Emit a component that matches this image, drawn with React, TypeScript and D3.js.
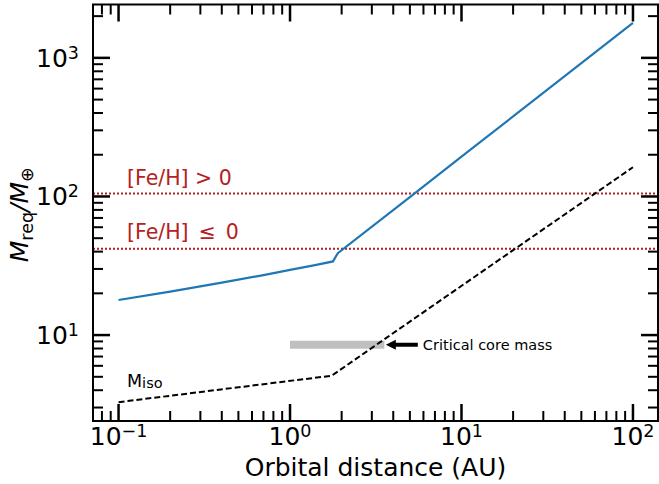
import React from 'react';
import * as d3 from 'd3';

const width = 659;
const height = 484;
const margin = {top: 4.5, right: 1, bottom: 63, left: 93};

// required core mass (blue)
const reqDist = [0.1, 0.2, 0.4, 0.7, 1.0, 1.4, 1.78, 1.9, 5, 10, 20, 50, 100];
const reqMass = [17.9, 20.6, 23.9, 27.1, 29.5, 32.0, 34.0, 39.0, 99, 194, 378, 917, 1787];

// isolation mass (black dashed)
const isoDist = [0.1, 1.75, 100];
const isoMass = [3.28, 5.09, 162.6];

// metallicity thresholds
const feLevels = [105, 42];

// critical core mass band
const critDist = [1, 3.55];
const critMass = 8.5;

const xTickExp = [-1, 0, 1, 2];
const yTickExp = [1, 2, 3];

const font = 'DejaVu Sans, sans-serif';
const red = '#b22222';

const x = d3.scaleLog().domain([10 ** -1.149, 10 ** 2.146]).range([margin.left, width - margin.right]);
const y = d3.scaleLog().domain([10 ** 0.38, 10 ** 3.385]).range([height - margin.bottom, margin.top]);

const minorTicks = (scale: any) => {
  const [lo, hi] = scale.domain();
  const out: number[] = [];
  for (let e = Math.floor(Math.log10(lo)); e <= Math.ceil(Math.log10(hi)); e++) {
    for (let k = 2; k <= 9; k++) {
      const v = k * 10 ** e;
      if (v >= lo && v <= hi) out.push(v);
    }
  }
  return out;
};

const line = d3.line<[number, number]>().x(d => x(d[0])).y(d => y(d[1]));

export default function App() {
  const x0 = margin.left, x1 = width - margin.right;
  const y0 = height - margin.bottom, y1 = margin.top;
  const major = 17, minor = 10;

  const req = reqDist.map((d, i) => [d, reqMass[i]] as [number, number]);
  const iso = isoDist.map((d, i) => [d, isoMass[i]] as [number, number]);

  const tipX = x(3.62), textX = x(5.95), cy = y(critMass);

  return (
    <svg width={width} height={height} style={{position: 'absolute', left: 0, top: 0, background: '#fff'}}>
      {/* thresholds */}
      {feLevels.map((v, i) => (
        <line key={i} x1={x0} x2={x1} y1={y(v)} y2={y(v)} stroke={red} strokeWidth={2} strokeDasharray="2 2" />
      ))}
      <text x={127} y={y(feLevels[0]) - 9} fill={red} fontFamily={font} fontSize={20.5}>[Fe/H] &gt; 0</text>
      <text x={127} y={y(feLevels[1]) - 10} fill={red} fontFamily={font} fontSize={20.5}>
        [Fe/H]<tspan dx={10}>≤</tspan><tspan dx={10}>0</tspan>
      </text>

      {/* critical core mass */}
      <line x1={x(critDist[0])} x2={x(critDist[1])} y1={cy} y2={cy} stroke="#bfbfbf" strokeWidth={8} />
      <path d={`M${tipX},${cy} L${tipX + 10},${cy - 5} L${tipX + 10},${cy - 2} L${textX - 5},${cy - 2} L${textX - 5},${cy + 2} L${tipX + 10},${cy + 2} L${tipX + 10},${cy + 5} Z`} fill="#000" />
      <text x={textX} y={cy + 5} fontFamily={font} fontSize={14.5} fill="#000">Critical core mass</text>

      {/* curves */}
      <path d={line(iso) || ''} fill="none" stroke="#000" strokeWidth={2} strokeDasharray="6 3" />
      <path d={line(req) || ''} fill="none" stroke="#1f77b4" strokeWidth={2.2} />
      <text x={127} y={387} fontFamily={font} fontSize={17.5} fill="#000">
        M<tspan fontSize={14.5} dy={1}>iso</tspan>
      </text>

      {/* ticks */}
      <g stroke="#000">
        {xTickExp.map(e => {
          const px = x(10 ** e);
          return (
            <g key={'xm' + e} strokeWidth={2.5}>
              <line x1={px} x2={px} y1={y0} y2={y0 - major} />
              <line x1={px} x2={px} y1={y1} y2={y1 + major} />
            </g>
          );
        })}
        {minorTicks(x).map(v => (
          <g key={'xn' + v} strokeWidth={2}>
            <line x1={x(v)} x2={x(v)} y1={y0} y2={y0 - minor} />
            <line x1={x(v)} x2={x(v)} y1={y1} y2={y1 + minor} />
          </g>
        ))}
        {yTickExp.map(e => {
          const py = y(10 ** e);
          return (
            <g key={'ym' + e} strokeWidth={2.5}>
              <line x1={x0} x2={x0 + major} y1={py} y2={py} />
              <line x1={x1} x2={x1 - major} y1={py} y2={py} />
            </g>
          );
        })}
        {minorTicks(y).map(v => (
          <g key={'yn' + v} strokeWidth={2}>
            <line x1={x0} x2={x0 + minor} y1={y(v)} y2={y(v)} />
            <line x1={x1} x2={x1 - minor} y1={y(v)} y2={y(v)} />
          </g>
        ))}
      </g>
      <rect x={x0} y={y1} width={x1 - x0} height={y0 - y1} fill="none" stroke="#000" strokeWidth={2} />

      {/* tick labels */}
      {xTickExp.map(e => (
        <text key={'xl' + e} x={x(10 ** e)} y={445} textAnchor="middle" fontFamily={font} fontSize={25}>
          10<tspan fontSize={17.5} dy={-8}>{e < 0 ? '\u2212' + Math.abs(e) : e}</tspan>
        </text>
      ))}
      {yTickExp.map(e => (
        <text key={'yl' + e} x={79} y={y(10 ** e) + 9} textAnchor="end" fontFamily={font} fontSize={25}>
          10<tspan fontSize={17.5} dy={-8}>{e}</tspan>
        </text>
      ))}

      {/* axis labels */}
      <text x={(x0 + x1) / 2} y={476} textAnchor="middle" fontFamily={font} fontSize={25}>Orbital distance (AU)</text>
      <text transform={`translate(28,${(y0 + y1) / 2 + 2}) rotate(-90)`} textAnchor="middle" fontFamily={font} fontSize={25}>
        <tspan fontStyle="italic">M</tspan>
        <tspan fontSize={17.5} dy={5}>req</tspan>
        <tspan fontStyle="italic" dy={-5}>/M</tspan>
        <tspan fontSize={17.5} dy={5}>⊕</tspan>
      </text>
    </svg>
  );
}
